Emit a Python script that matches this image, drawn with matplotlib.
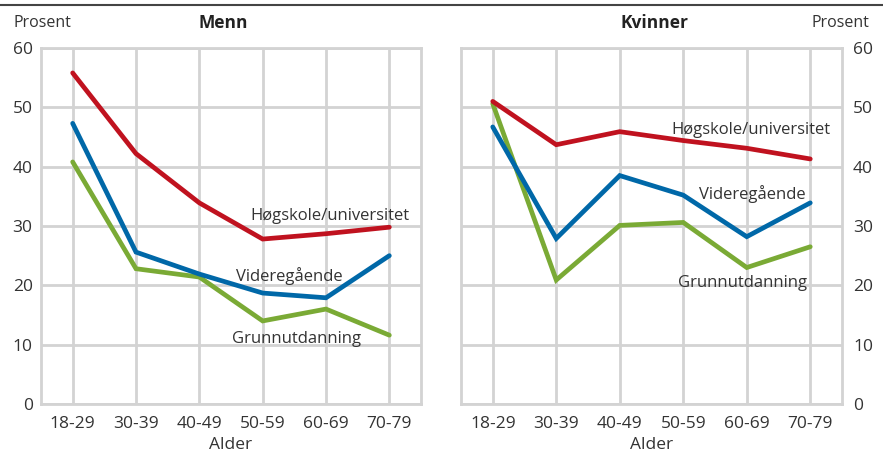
import matplotlib
matplotlib.use("Agg")
import matplotlib.pyplot as plt
from matplotlib.lines import Line2D

plt.rcParams['font.family'] = ['Open Sans', 'DejaVu Sans']

age_groups = ["18-29", "30-39", "40-49", "50-59", "60-69", "70-79"]
y_ticks = [0, 10, 20, 30, 40, 50, 60]

menn_hogskole = [55.8, 42.2, 33.9, 27.8, 28.7, 29.8]
menn_videregaende = [47.3, 25.6, 21.9, 18.7, 17.9, 25.0]
menn_grunnutdanning = [40.8, 22.8, 21.4, 14.0, 16.0, 11.6]

kvinner_hogskole = [51.0, 43.7, 45.9, 44.4, 43.1, 41.3]
kvinner_videregaende = [46.7, 27.9, 38.5, 35.2, 28.2, 33.9]
kvinner_grunnutdanning = [50.6, 20.9, 30.1, 30.6, 23.0, 26.5]

RED = "#C0121F"
BLUE = "#0068A8"
GREEN = "#7AAA35"
GRID = "#D3D3D3"
TXT = "#333333"

fig = plt.figure(figsize=(8.83, 4.55), dpi=100)
axL = fig.add_axes([41/883, 1-404/455, 380/883, 356/455])
axR = fig.add_axes([461/883, 1-404/455, 381/883, 356/455])

x = list(range(len(age_groups)))

def style(ax, right=False):
    ax.set_xlim(-0.5, 5.5)
    ax.set_ylim(0, 60)
    ax.set_xticks(x)
    ax.set_xticklabels(age_groups)
    ax.set_yticks(y_ticks)
    ax.grid(True, color=GRID, linewidth=2, zorder=0)
    ax.set_axisbelow(True)
    for s in ax.spines.values():
        s.set_color(GRID)
        s.set_linewidth(2)
    ax.tick_params(length=0, labelsize=12.5, colors=TXT, pad=8.5)
    if right:
        ax.yaxis.tick_right()
        ax.tick_params(axis='y', pad=8)
    else:
        ax.tick_params(axis='y', pad=6)
    ax.set_xlabel("Alder", fontsize=12.5, color=TXT, labelpad=4)

for ax, h, v, g in [(axL, menn_hogskole, menn_videregaende, menn_grunnutdanning),
                    (axR, kvinner_hogskole, kvinner_videregaende, kvinner_grunnutdanning)]:
    style(ax, right=(ax is axR))
    for vals, col in [(g, GREEN), (v, BLUE), (h, RED)]:
        ax.plot(x, vals, color=col, linewidth=3.4, solid_capstyle='round',
                solid_joinstyle='miter', zorder=3)

# Series labels
fs = 12
axL.text(2.80, 31.0, "Høgskole/universitet", fontsize=fs, color=TXT, ha='left', va='baseline', zorder=4)
axL.text(2.58, 20.8, "Videregående", fontsize=fs, color=TXT, ha='left', va='baseline', zorder=4)
axL.text(2.51, 10.3, "Grunnutdanning", fontsize=fs, color=TXT, ha='left', va='baseline', zorder=4)

axR.text(2.82, 45.5, "Høgskole/universitet", fontsize=fs, color=TXT, ha='left', va='baseline', zorder=4)
axR.text(3.25, 34.6, "Videregående", fontsize=fs, color=TXT, ha='left', va='baseline', zorder=4)
axR.text(2.92, 19.7, "Grunnutdanning", fontsize=fs, color=TXT, ha='left', va='baseline', zorder=4)

# Titles and unit labels
fig.text(14/883, 1-23/455, "Prosent", fontsize=11.5, color=TXT, ha='left', va='center')
fig.text(869/883, 1-23/455, "Prosent", fontsize=11.5, color=TXT, ha='right', va='center')
fig.text(223/883, 1-23/455, "Menn", fontsize=12.5, color="#222222", ha='center', va='center', fontweight='bold')
fig.text(655/883, 1-23/455, "Kvinner", fontsize=12.5, color="#222222", ha='center', va='center', fontweight='bold')

# Top rule
fig.add_artist(Line2D([0, 1], [1-5/455, 1-5/455], color="#444444", linewidth=1.5,
                      transform=fig.transFigure))

fig.savefig("out.png", dpi=100)
